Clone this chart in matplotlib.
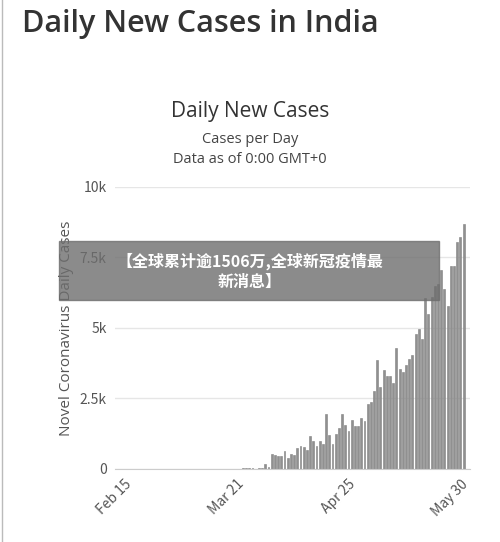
import matplotlib.pyplot as plt
import numpy as np
import datetime as dt

plt.rcParams['font.family'] = ['Noto Sans CJK SC', 'DejaVu Sans']

# daily new cases, last ~70 days up to May 31 (in thousands)
recent = [0.02, 0.03, 0.02, 0.02, 0.01, 0.04, 0.03, 0.17, 0.08,
          0.52, 0.48, 0.46, 0.44, 0.62, 0.40, 0.52, 0.48, 0.74, 0.82, 0.76, 0.68,
          1.15, 0.97, 0.80, 0.97, 0.89, 1.95, 1.19, 0.88, 1.24, 1.45, 1.95,
          1.57, 1.33, 1.73, 1.51, 1.51, 1.80, 1.71, 2.30, 2.36, 2.76, 3.85,
          2.90, 3.49, 3.29, 3.29, 3.05, 4.30, 3.53, 3.44, 3.70, 3.88, 4.04,
          4.77, 4.95, 4.60, 6.06, 5.49, 6.08, 6.50, 6.56, 7.05, 6.38, 5.78,
          7.20, 7.20, 8.04, 8.24, 8.69]
start = dt.date(2020, 2, 15)
end = dt.date(2020, 5, 31)
n_days = (end - start).days + 1
cases = [0.0] * (n_days - len(recent)) + recent
dates = [start + dt.timedelta(days=i) for i in range(n_days)]
values = np.array(cases) * 1000

fig = plt.figure(figsize=(5.0, 5.42), dpi=100)
fig.text(0.045, 0.955, 'Daily New Cases in India', fontsize=22, color='#333333',
         ha='left', va='center', weight='semibold', family=['Open Sans', 'DejaVu Sans'])
fig.text(0.5, 0.785, 'Daily New Cases', fontsize=15, color='#333333', ha='center',
         family=['Open Sans', 'DejaVu Sans'])
fig.text(0.5, 0.7, 'Cases per Day\nData as of 0:00 GMT+0', fontsize=10.5,
         color='#444444', ha='center', linespacing=1.4,
         family=['Open Sans', 'DejaVu Sans'])
fig.add_artist(plt.Line2D([0.004, 0.004], [0, 1], color='#bbbbbb', linewidth=1))

ax = fig.add_axes([0.23, 0.135, 0.71, 0.52])
ax.bar(dates, values, width=0.6, color='#909090', edgecolor='#808080', linewidth=0.4)
ax.set_ylim(0, 10000)
ax.set_yticks([0, 2500, 5000, 7500, 10000])
ax.set_yticklabels(['0', '2.5k', '5k', '7.5k', '10k'], color='#555555', fontsize=10)
ticks = [dt.date(2020, 2, 15), dt.date(2020, 3, 21), dt.date(2020, 4, 25), dt.date(2020, 5, 30)]
ax.set_xticks(ticks)
ax.set_xticklabels(['Feb 15', 'Mar 21', 'Apr 25', 'May 30'], rotation=45, ha='right',
                   rotation_mode='anchor', color='#555555', fontsize=10)
ax.set_xlim(dt.date(2020, 2, 12), dt.date(2020, 6, 2))
ax.grid(axis='y', color='#e6e6e6', linewidth=1)
ax.set_axisbelow(True)
for s in ['top', 'right', 'left']:
    ax.spines[s].set_visible(False)
ax.spines['bottom'].set_color('#cccccc')
ax.tick_params(length=0, pad=6)
ax.set_ylabel('Novel Coronavirus Daily Cases', color='#555555', fontsize=11,
              family=['Open Sans', 'DejaVu Sans'])

# overlay banner
fig.add_artist(plt.Rectangle((0.118, 0.447), 0.76, 0.108, transform=fig.transFigure,
                             color='#6e6e6e', alpha=0.8, zorder=5))
fig.text(0.5, 0.5, '【全球累计逾1506万,全球新冠疫情最\n新消息】', color='white',
         fontsize=11.5, weight='bold', ha='center', va='center', zorder=6,
         linespacing=1.3)

fig.savefig('out.png', dpi=100)
